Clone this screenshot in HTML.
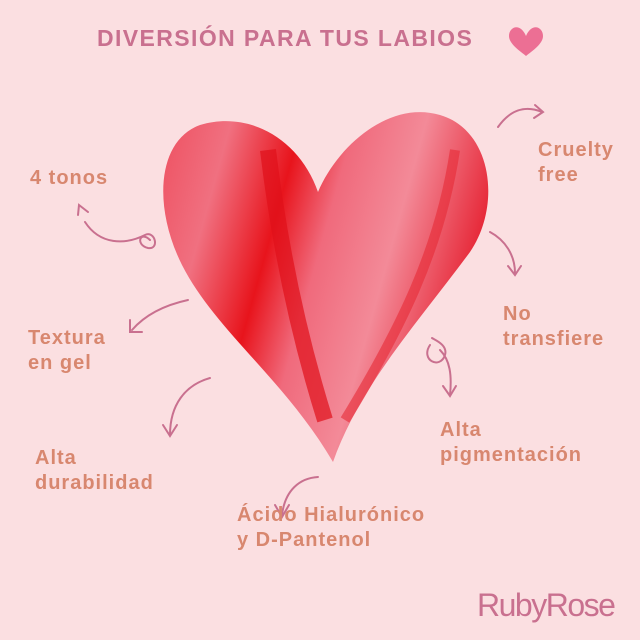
<!DOCTYPE html>
<html><head><meta charset="utf-8"><style>
html,body{margin:0;padding:0}
body{width:640px;height:640px;background:#fbdfe1;position:relative;overflow:hidden;font-family:"Liberation Sans",sans-serif}
.t{position:absolute;color:#d8876f;font-weight:bold;font-size:20px;line-height:25px;letter-spacing:1px}
</style></head><body>
<svg width="640" height="640" style="position:absolute;left:0;top:0">
<defs>
<linearGradient id="g" x1="0" y1="0" x2="1" y2="0.3">
<stop offset="0" stop-color="#ee5060"/>
<stop offset="0.2" stop-color="#f07080"/>
<stop offset="0.4" stop-color="#e8141c"/>
<stop offset="0.55" stop-color="#f06a7c"/>
<stop offset="0.75" stop-color="#f38a98"/>
<stop offset="1" stop-color="#e62636"/>
</linearGradient>
</defs>
<path d="M318,192 C300,140 250,110 200,125 C158,140 152,205 182,265 C215,330 285,380 333,462 C360,385 420,320 470,252 C502,205 492,130 440,115 C390,100 338,145 318,192 Z" fill="url(#g)"/>
<path d="M268,150 C280,250 300,340 325,420" stroke="#e0101a" stroke-width="16" fill="none" opacity="0.7"/>
<path d="M455,150 C440,250 400,330 345,420" stroke="#e62a36" stroke-width="10" fill="none" opacity="0.6"/>
<g stroke="#c9708f" stroke-width="2" fill="none" stroke-linecap="round">
<path d="M498,127 C510,110 525,105 542,112"/><path d="M535,105 L543,112 L534,118"/>
<path d="M490,232 C505,240 515,255 515,273"/><path d="M508,266 L515,275 L521,266"/>
<path d="M430,345 C420,360 440,370 445,355 C448,345 435,340 432,338 M440,350 C450,360 452,375 450,395"/><path d="M443,386 L450,396 L456,386"/>
<path d="M188,300 C165,305 145,315 132,330"/><path d="M130,320 L130,332 L142,332"/>
<path d="M210,378 C185,385 170,405 170,435"/><path d="M163,425 L170,436 L177,425"/>
<path d="M318,477 C300,478 285,490 282,515"/><path d="M275,505 L282,517 L289,505"/>
<path d="M150,240 C140,230 135,245 148,248 C160,250 155,230 145,235 C125,245 100,245 85,222"/><path d="M78,215 L79,205 L88,212"/>
</g>
<path d="M526,36 C520,22 509,27 509,36 C509,44 520,51 526,56 C532,51 543,44 543,36 C543,27 532,22 526,36 Z" fill="#ec6f94"/>
</svg>
<div style="position:absolute;left:97px;top:25px;color:#c9708f;font-weight:bold;font-size:23px;letter-spacing:1.4px">DIVERSIÓN PARA TUS LABIOS</div>
<div class="t" style="left:30px;top:166px">4 tonos</div>
<div class="t" style="left:538px;top:138px">Cruelty<br>free</div>
<div class="t" style="left:503px;top:302px">No<br>transfiere</div>
<div class="t" style="left:28px;top:326px">Textura<br>en gel</div>
<div class="t" style="left:440px;top:418px">Alta<br>pigmentación</div>
<div class="t" style="left:35px;top:446px">Alta<br>durabilidad</div>
<div class="t" style="left:237px;top:503px">Ácido Hialurónico<br>y D-Pantenol</div>
<div style="position:absolute;left:477px;top:587px;color:#c9708f;font-size:32px;letter-spacing:-1.5px">RubyRose</div>
</body></html>
